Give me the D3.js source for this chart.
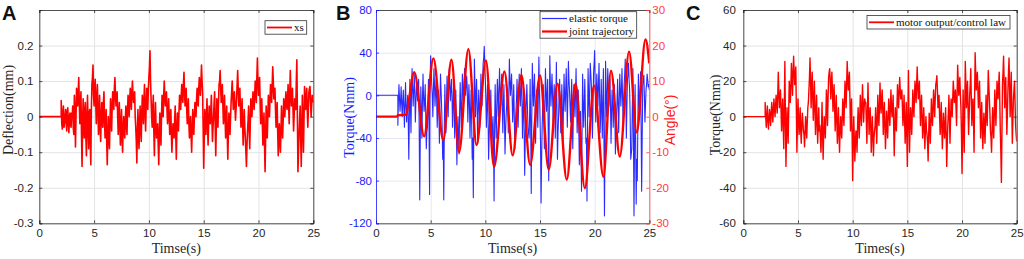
<!DOCTYPE html>
<html>
<head>
<meta charset="utf-8">
<script src="https://cdn.jsdelivr.net/npm/d3@7"></script>
<style>
  body { margin: 0; background: #fff; }
  svg text { font-family: "Liberation Sans", Arial, sans-serif; }
  svg text.serif { font-family: "Liberation Serif", "Times New Roman", serif; }
</style>
</head>
<body>
<div id="chart"></div>
<script>
// ---- data ----
const xTicks = [0, 5, 10, 15, 20, 25];
const tStart = 2.0;   // records are flat zero before this
const tStep = 0.1;    // main samples; the *Mid arrays sit half a step later

// A: deflection xs (mm)
const deflection = [
  0.045, -0.035, 0.03, -0.02, 0.02, -0.04, 0.025, -0.045, 0.01, -0.03,
  0.0, -0.03, 0.06, -0.085, 0.08, 0.03, 0.11, -0.02, 0.07, -0.14,
  0.05, -0.06, 0.04, -0.11, 0.06, -0.09, 0.02, -0.135, 0.09, 0.145,
  0.03, 0.105, -0.02, 0.09, -0.05, 0.06, -0.07, 0.04, -0.03, 0.07,
  -0.06, 0.02, -0.135, 0.0, -0.09, 0.05, -0.04, 0.07, 0.02, 0.11,
  0.03, 0.07, -0.05, 0.04, -0.08, 0.02, -0.1, 0.0, -0.06, 0.03,
  -0.05, 0.06, 0.0, 0.08, 0.02, 0.10, 0.04, 0.07, -0.03, -0.13,
  0.02, -0.09, 0.03, -0.07, 0.06, -0.02, 0.09, -0.04, 0.08, 0.02,
  0.11, 0.185, 0.05, -0.03, 0.06, -0.11, 0.04, -0.06, -0.02, -0.135,
  0.01, -0.08, 0.06, 0.0, 0.10, 0.03, 0.07, -0.02, 0.05, -0.05,
  0.02, -0.1, -0.02, -0.06, 0.03, -0.12, 0.01, -0.04, 0.06, 0.02,
  0.09, 0.04, 0.125, 0.03, 0.08, -0.02, 0.05, -0.06, 0.0, -0.1,
  0.02, -0.05, 0.04, 0.0, 0.08, 0.03, 0.11, 0.06, 0.145, 0.07,
  -0.145, 0.02, -0.05, 0.05, -0.08, 0.03, -0.02, 0.06, -0.07, 0.0,
  0.07, -0.11, 0.05, -0.03, 0.09, 0.13, 0.04, 0.09, -0.02, 0.06,
  -0.06, 0.03, -0.12, 0.01, -0.05, 0.04, 0.1, 0.02, 0.07, -0.01,
  0.05, 0.13, 0.03, 0.08, -0.03, 0.05, -0.08, 0.02, -0.06, -0.14,
  -0.04, 0.03, -0.09, 0.05, 0.0, 0.07, 0.02, 0.1, 0.04, 0.165,
  0.06, 0.11, -0.02, 0.05, -0.08, 0.01, -0.155, 0.03, -0.06, 0.06,
  0.0, 0.09, 0.04, 0.14, 0.05, 0.08, -0.03, 0.04, -0.11, -0.02,
  -0.1, 0.03, -0.06, 0.05, 0.0, 0.07, 0.02, 0.09, -0.02, 0.13,
  0.03, 0.08, -0.04, 0.05, 0.02, 0.16, -0.155, -0.05, 0.03, -0.14,
  0.06, -0.1, 0.085, 0.02, 0.08, -0.03, 0.07, 0.085, 0.0, 0.06,
  0.04
];
const deflectionMid = [
  -0.02, 0.01, -0.03, 0.0, -0.01, 0.015, -0.02, 0.0, -0.02, 0.01,
  0.03, -0.05, 0.02, 0.0, 0.05, 0.07, 0.04, 0.03, -0.05, -0.02,
  -0.03, 0.02, -0.06, 0.0, -0.03, 0.01, -0.07, 0.02, 0.11, 0.06,
  0.08, 0.04, 0.05, 0.02, 0.0, -0.03, 0.0, -0.02, 0.04, -0.01,
  -0.03, -0.07, -0.05, -0.06, -0.02, 0.0, 0.03, 0.05, 0.08, 0.06,
  0.05, 0.0, 0.0, -0.03, -0.02, -0.06, -0.03, -0.04, -0.01, -0.02,
  0.02, 0.03, 0.05, 0.04, 0.07, 0.06, 0.05, 0.0, -0.07, -0.04,
  -0.05, -0.02, -0.03, 0.01, 0.02, 0.05, 0.01, 0.03, 0.05, 0.08,
  0.14, 0.1, 0.0, 0.02, -0.04, -0.02, -0.03, -0.05, -0.08, -0.05,
  -0.04, 0.0, 0.02, 0.06, 0.06, 0.05, 0.02, 0.01, 0.0, -0.01,
  -0.05, -0.05, -0.05, -0.01, -0.05, -0.04, -0.02, 0.02, 0.03, 0.06,
  0.06, 0.09, 0.07, 0.05, 0.02, 0.01, -0.02, -0.03, -0.05, -0.04,
  -0.02, 0.0, 0.01, 0.05, 0.04, 0.08, 0.08, 0.1, 0.1, -0.03,
  -0.06, -0.02, 0.0, -0.02, -0.02, 0.0, 0.02, -0.01, -0.03, 0.04,
  -0.03, -0.03, 0.01, 0.04, 0.1, 0.08, 0.06, 0.03, 0.02, 0.0,
  -0.02, -0.05, -0.05, -0.02, 0.0, 0.07, 0.06, 0.05, 0.03, 0.02,
  0.09, 0.08, 0.06, 0.02, 0.01, -0.02, -0.03, -0.03, -0.1, -0.08,
  -0.01, -0.04, -0.02, 0.02, 0.04, 0.04, 0.06, 0.07, 0.11, 0.1,
  0.08, 0.04, 0.01, -0.02, -0.04, -0.08, -0.06, -0.02, 0.0, 0.03,
  0.05, 0.07, 0.09, 0.1, 0.06, 0.02, 0.0, -0.04, -0.06, -0.07,
  -0.04, -0.02, -0.01, 0.02, 0.04, 0.04, 0.05, 0.03, 0.06, 0.07,
  0.05, 0.02, 0.0, 0.03, 0.1, 0.0, -0.1, -0.01, -0.06, -0.04,
  -0.02, -0.01, 0.05, 0.05, 0.02, 0.02, 0.08, 0.04, 0.03, 0.05
];
const deflTicks = [-0.3, -0.2, -0.1, 0, 0.1, 0.2];

// B: elastic torque (Nmm)
const elasticTorque = [
  -28, 10, -15, 8, -20, 5, -30, 12, -25, 0,
  -60, 15, -35, 25, -10, 20, -25, 10, -5, 15,
  -98, 8, -40, 20, -15, 10, -50, -30, 15, -93,
  37, 10, -20, 25, -10, 15, -30, 5, -45, 20,
  -10, -60, -98, 10, -35, 18, -20, 25, -5, 15,
  -30, 10, -40, 5, -65, -20, -55, 12, -30, 20,
  -10, 25, 0, 18, -25, 10, -40, 5, -60, -96,
  34, -20, 15, -45, 5, -30, 20, -10, 30, 46,
  15, -30, 10, -60, -20, 5, -50, -20, -99, 10,
  -40, 15, -20, 25, -10, 20, -35, 10, -55, -20,
  5, -35, 34, 0, 20, -25, 10, -50, -15, 15,
  -30, 20, -10, 25, -40, 5, -75, -20, 10, -30,
  -40, 15, -92, 30, -10, 20, -45, 5, -30, 36,
  -20, -101, -30, 10, -50, 25, -15, 15, -80, 37,
  -10, 20, -25, 10, -40, 31, -60, -20, 15, -35,
  10, -45, 20, -15, 25, -30, 32, 5, -25, 15,
  -50, 10, -20, 25, -35, 5, -65, -15, -90, 20,
  -30, 15, -45, -99, 25, -20, 30, 10, -40, 20,
  42, -25, 20, -10, 30, -35, 15, -40, 25, -113,
  32, -20, 25, -10, 15, -45, 5, -30, 10, -55,
  -20, 15, -35, 20, -10, 25, -25, 10, 34, -40,
  15, 30, 5, -60, -50, 25, -113, 10, -102, -80,
  20, -20, 22, -90, 10, 19, -25, 5, 20, 8,
  5
];
const elasticTorqueMid = [
  -5, -3, -5, -8, -5, -12, -8, -10, -10, -25,
  -20, -10, 5, 5, 5, 0, -5, 5, 0, -30,
  -40, -15, -5, -2, -5, -20, -35, -10, -30, 15,
  25, 0, 5, 10, 5, -5, -10, -15, -5, 5,
  -30, -40, -30, -15, -5, 0, 5, 10, 5, 0,
  -10, -15, -20, -30, -35, -40, -15, -10, -5, 5,
  10, 10, 10, 5, -5, -10, -15, -25, -40, -30,
  10, 0, -10, -15, -10, -5, 5, 10, 35, 30,
  -5, -10, -20, -40, -25, -20, -30, -45, -30, -20,
  -10, 0, 5, 5, 5, -5, -10, -20, -35, -10,
  -10, 0, 15, 10, 0, -10, -20, -30, -5, -5,
  -5, 5, 5, -5, -15, -30, -45, -5, -10, -35,
  -20, -30, -20, 10, 5, -10, -15, -10, 0, 5,
  -45, -60, -10, -15, -10, 5, 0, -30, -20, 10,
  5, 0, -5, -10, -5, -15, -35, 0, -10, -10,
  -15, -10, 0, 5, 0, 0, 15, -10, -5, -15,
  -20, -5, 0, -5, -15, -30, -40, -50, -35, -5,
  -10, -15, -40, -30, 0, 5, 20, -15, -10, 30,
  10, 0, 5, 10, 0, -20, -10, -5, -40, -40,
  5, 0, 10, 5, -10, -15, -10, -10, -20, -35,
  -5, -10, -5, 5, 5, 0, -5, 20, 0, -10,
  20, 15, -20, -55, -10, -40, -45, -40, -60, -30,
  0, 0, -30, -40, 15, 0, -10, 10, 15, 10
];
const torqueTicksB = [-120, -80, -40, 0, 40, 80];

// B: joint trajectory (deg), turning points
const jointT = [0, 1.9, 2.0, 2.7, 3.5, 4.4, 5.25, 6.15, 6.9, 7.6, 8.45, 9.2, 10.05, 10.8,
  11.75, 12.5, 13.3, 14.1, 15.0, 15.8, 16.6, 17.45, 18.25, 19.1, 19.95, 20.8, 21.5,
  22.3, 23.15, 23.85, 24.65, 25.0];
const jointAngle = [0, 0, 0.4, 0.5, 12.5, -5.5, 16.4, -6.6, 16.0, -10.0, 19.0, -8.0, 15.8, -14.1,
  12.7, -10.9, 11.7, -13.6, 11.6, -14.9, 9.3, -17.7, 9.3, -20.1, 8.8, -16.9, 12.9,
  -11.2, 18.3, -4.4, 21.7, 15.0];
const angleTicks = [-30, -20, -10, 0, 10, 20, 30];

// C: motor output / control law (Nmm)
const motorTorque = [
  8, -6, 6, -7, 4, -5, 8, -3, 10, 0,
  12, 2, 25, 5, 15, -8, 10, -18, 31, -28,
  5, -15, 20, 8, 30, 12, 34, 18, 28, -20,
  10, -10, 5, -15, 2, -8, -17, 0, -12, 5,
  15, 33, 5, 25, -2, 20, -10, 12, -15, 5,
  -5, -20, 8, -24, 0, -12, 15, -5, 22, 27,
  10, 25, 3, 18, -8, 12, -15, 5, -20, 0,
  -12, 10, -5, 20, 5, 31, 15, 25, -8, 10,
  -36, 0, -25, -8, -20, 5, -12, 12, -5, 18,
  -3, 10, 8, -15, 19, -10, 5, -20, 0, -22,
  -8, 5, -15, 12, -5, 19, 2, 15, -10, 8,
  -18, 3, -12, 10, -5, 15, 0, 12, -22, 5,
  -8, 18, 5, 22, 10, 15, -5, 12, -15, 8,
  -28, 26, -20, 5, -10, 15, 0, 20, 8, 28,
  10, 20, -5, 12, -12, 5, -18, 0, -10, -25,
  2, -15, 10, -5, 15, 0, 18, 23, 5, 12,
  -10, 8, -18, 2, -12, 5, -28, -5, 12, -15,
  10, 0, 20, 8, 15, -5, 29, 12, 22, 5,
  -32, 15, -20, 31, 5, 20, -10, 12, 27, -5,
  10, -20, 36, 15, 25, 5, 20, -12, 8, -18,
  2, -15, 12, -5, 26, 10, -8, -20, 5, -12,
  15, -5, 20, 10, 25, -8, -37, 18, 34, 5,
  22, -10, 15, 33, 0, 25, -15, 10, 20, -5,
  -14
];
const motorTorqueMid = [
  0, 0, -2, -1, 0, 2, 3, 4, 5, 6,
  7, 12, 14, 10, 4, 2, -5, 5, 0, -10,
  -5, 2, 14, 18, 22, 24, 26, 22, 5, -5,
  0, -5, -8, -5, -3, -10, -8, -6, -3, 8,
  22, 20, 15, 12, 8, 5, 0, -3, -5, -8,
  -12, -8, -10, -10, -5, 0, 8, 10, 25, 20,
  18, 15, 10, 5, 2, -2, -5, -10, -8, -8,
  0, 3, 8, 12, 18, 22, 20, 10, 0, -10,
  -15, -12, -15, -10, -5, -3, 0, 3, 6, 8,
  5, 8, -2, 2, 5, -2, -5, -10, -10, -12,
  -5, -5, -2, 2, 5, 8, 10, 5, 0, -5,
  -8, -5, 0, 2, 5, 5, 5, -5, -8, -5,
  5, 10, 14, 15, 12, 5, 3, -2, -5, -10,
  0, 0, -5, -3, 2, 8, 10, 14, 18, 18,
  15, 8, 5, 0, -5, -6, -8, -8, -15, -10,
  -5, -3, 0, 5, 8, 10, 20, 15, 10, 0,
  -2, -5, -8, -5, -5, -10, -15, 2, 0, -2,
  5, 10, 14, 12, 5, 12, 20, 18, 12, -10,
  -10, -5, 5, 18, 12, 5, 0, 18, 10, 5,
  -2, 10, 25, 20, 15, 12, 5, -2, -5, -8,
  -5, -2, 2, 10, 18, 2, -12, -8, -4, 2,
  5, 8, 15, 18, 10, -20, -10, 25, 20, 15,
  5, 2, 25, 15, 12, 5, -2, 15, 8, -10
];
const torqueTicksC = [-60, -40, -20, 0, 20, 40, 60];

// ---- layout ----
const W = 1024, H = 259;
const plotTop = 10, plotBottom = 223.3;
const dark = "#262626";
const tickFont = 11.5;

const svg = d3.select("#chart").append("svg")
  .attr("width", W).attr("height", H);

// flat zero before tStart, then main and half-step samples interleaved
function series(vals, mids) {
  const pts = [{ t: 0, v: 0 }, { t: tStart, v: 0 }];
  vals.forEach((v, i) => {
    pts.push({ t: tStart + i * tStep, v });
    if (i < mids.length) pts.push({ t: tStart + (i + 0.5) * tStep, v: mids[i] });
  });
  return pts;
}

function makePanel(id, left, right, yDomain, yTicks, gridColor) {
  const x = d3.scaleLinear().domain([0, 25]).range([left, right]);
  const y = d3.scaleLinear().domain(yDomain).range([plotBottom, plotTop]);
  svg.append("clipPath").attr("id", id)
    .append("rect").attr("x", left).attr("y", plotTop)
    .attr("width", right - left).attr("height", plotBottom - plotTop);

  const gx = svg.append("g").attr("transform", `translate(0,${plotBottom})`)
    .call(d3.axisBottom(x).tickValues(xTicks).tickSize(-(plotBottom - plotTop)).tickFormat(""));
  gx.select(".domain").remove();
  gx.selectAll("line").attr("stroke", gridColor);

  const gy = svg.append("g").attr("transform", `translate(${left},0)`)
    .call(d3.axisLeft(y).tickValues(yTicks).tickSize(-(right - left)).tickFormat(""));
  gy.select(".domain").remove();
  gy.selectAll("line").attr("stroke", gridColor);
  return { x, y, left, right };
}

function styleAxis(g, color, showLabels) {
  g.attr("font-size", tickFont).attr("font-family", "'Liberation Sans', Arial, sans-serif");
  g.select(".domain").attr("stroke", color).attr("stroke-width", 0.8);
  g.selectAll(".tick line").attr("stroke", color).attr("stroke-width", 0.8);
  g.selectAll(".tick text").attr("fill", color);
  if (!showLabels) g.selectAll(".tick text").remove();
}

function frameAxes(p, opts) {
  const fmt = d => String(d);
  const xa = svg.append("g").attr("transform", `translate(0,${plotBottom})`)
    .call(d3.axisBottom(p.x).tickValues(xTicks).tickSize(-3).tickPadding(5.5).tickFormat(fmt));
  styleAxis(xa, dark, true);
  const xt = svg.append("g").attr("transform", `translate(0,${plotTop})`)
    .call(d3.axisTop(p.x).tickValues(xTicks).tickSize(-3).tickFormat(""));
  styleAxis(xt, dark, false);

  const ya = svg.append("g").attr("transform", `translate(${p.left},0)`)
    .call(d3.axisLeft(p.y).tickValues(opts.yTicks).tickSize(-3).tickPadding(opts.padL).tickFormat(fmt));
  styleAxis(ya, opts.colorL, true);

  const yr = opts.y2 || p.y;
  const ra = svg.append("g").attr("transform", `translate(${p.right},0)`)
    .call(d3.axisRight(yr).tickValues(opts.y2Ticks || opts.yTicks).tickSize(-3).tickPadding(3).tickFormat(fmt));
  styleAxis(ra, opts.colorR, !!opts.y2);
}

function panelLetter(txt, x) {
  svg.append("text").attr("x", x).attr("y", 20)
    .attr("font-size", 20).attr("font-weight", "bold").attr("fill", "#111")
    .text(txt);
}

function xLabel(p, txt) {
  svg.append("text").attr("class", "serif")
    .attr("x", (p.left + p.right) / 2).attr("y", 253)
    .attr("text-anchor", "middle").attr("font-size", 14).attr("fill", dark)
    .text(txt);
}

function yLabel(txt, x, cy, color, serif, size) {
  svg.append("text").attr("class", serif ? "serif" : null)
    .attr("transform", `translate(${x},${cy}) rotate(-90)`)
    .attr("text-anchor", "middle").attr("dominant-baseline", "central")
    .attr("font-size", size).attr("fill", color)
    .text(txt);
}

function legend(x0, y0, w, items) {
  const rowH = 13;
  svg.append("rect").attr("x", x0).attr("y", y0)
    .attr("width", w).attr("height", items.length * rowH + 0.5)
    .attr("fill", "#fff").attr("stroke", "#333").attr("stroke-width", 0.8);
  items.forEach((it, i) => {
    const cy = y0 + rowH / 2 + i * rowH + 0.3;
    svg.append("line").attr("x1", x0 + 2).attr("x2", x0 + 27)
      .attr("y1", cy).attr("y2", cy)
      .attr("stroke", it.color).attr("stroke-width", it.width);
    svg.append("text").attr("class", "serif")
      .attr("x", x0 + 29).attr("y", cy + 3.6)
      .attr("font-size", 11).attr("fill", "#111")
      .text(it.label);
  });
}

const line = (p, yScale) => d3.line().x(d => p.x(d.t)).y(d => yScale(d.v));

// ---- A ----
const pA = makePanel("clipA", 39.3, 313.3, [-0.3, 0.3], deflTicks, "#e3e3e3");
svg.append("path").datum(series(deflection, deflectionMid))
  .attr("clip-path", "url(#clipA)")
  .attr("fill", "none").attr("stroke", "#ff0000").attr("stroke-width", 1.6)
  .attr("stroke-linejoin", "round")
  .attr("d", line(pA, pA.y));
frameAxes(pA, { yTicks: deflTicks, padL: 5.8, colorL: dark, colorR: dark });
legend(265, 20.7, 41.7, [{ label: "xs", color: "#ff0000", width: 1.8 }]);
panelLetter("A", 2);
xLabel(pA, "Timse(s)");
yLabel("Deflection(mm)", 8.5, 110, dark, true, 14);

// ---- B ----
const pB = makePanel("clipB", 376, 649.3, [-120, 80], torqueTicksB, "#e6e6f5");
const yAng = d3.scaleLinear().domain([-30, 30]).range([plotBottom, plotTop]);
svg.append("path").datum(series(elasticTorque, elasticTorqueMid))
  .attr("clip-path", "url(#clipB)")
  .attr("fill", "none").attr("stroke", "#2b2bff").attr("stroke-width", 1.1)
  .attr("stroke-linejoin", "round")
  .attr("d", line(pB, pB.y));
const joint = jointT.map((t, i) => ({ t, v: jointAngle[i] }));
svg.append("path").datum(joint)
  .attr("clip-path", "url(#clipB)")
  .attr("fill", "none").attr("stroke", "#ff0000").attr("stroke-width", 2.4)
  .attr("d", line(pB, yAng).curve(d3.curveMonotoneX));
frameAxes(pB, { yTicks: torqueTicksB, padL: 4, colorL: "#1a1aff", colorR: "#ff3a3a",
  y2: yAng, y2Ticks: angleTicks });
legend(540, 11.7, 96.7, [
  { label: "elastic torque", color: "#2b2bff", width: 1.2 },
  { label: "joint trajectory", color: "#ff0000", width: 2.2 }
]);
panelLetter("B", 336);
xLabel(pB, "Timse(s)");
yLabel("Torque(Nmm)", 349, 117.5, "#1a1aff", true, 14);
yLabel("Angle(°)", 670, 120, "#ff1a1a", false, 14);

// ---- C ----
const pC = makePanel("clipC", 743.3, 1016.7, [-60, 60], torqueTicksC, "#e3e3e3");
svg.append("path").datum(series(motorTorque, motorTorqueMid))
  .attr("clip-path", "url(#clipC)")
  .attr("fill", "none").attr("stroke", "#ff0000").attr("stroke-width", 1.4)
  .attr("stroke-linejoin", "round")
  .attr("d", line(pC, pC.y));
frameAxes(pC, { yTicks: torqueTicksC, padL: 7.5, colorL: dark, colorR: dark });
legend(867, 15.5, 143, [{ label: "motor output/control law", color: "#ff0000", width: 1.8 }]);
panelLetter("C", 686);
xLabel(pC, "Times(s)");
yLabel("Torque(Nmm)", 715, 115, dark, true, 14);
</script>
</body>
</html>
